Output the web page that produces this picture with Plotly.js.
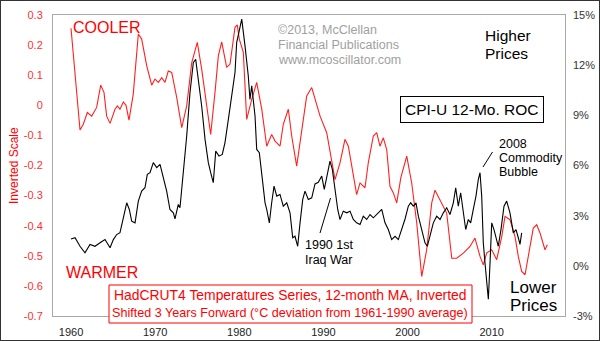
<!DOCTYPE html>
<html>
<head>
<meta charset="utf-8">
<script src="https://cdn.plot.ly/plotly-3.0.1.min.js"></script>
<style>
html,body{margin:0;padding:0;background:#fff;}
#wrap{position:relative;width:600px;height:341px;}
#chart{position:absolute;left:0;top:0;width:600px;height:341px;}
#frame{position:absolute;left:0;top:0;width:600px;height:341px;box-sizing:border-box;border:1px solid #333;pointer-events:none;}
</style>
</head>
<body>
<div id="wrap"><div id="chart"></div><div id="frame"></div></div>
<script>
// HadCRUT4 temperature (12-month MA, inverted, shifted 3 years forward) - left axis
const tempYears = [1960.0,1961.07,1961.46,1961.94,1962.46,1963.05,1963.53,1963.92,1964.24,1964.64,1965.23,1965.5,1965.82,1966.22,1966.54,1966.89,1967.4,1968.0,1968.4,1969.0,1969.59,1969.98,1970.38,1970.78,1971.17,1971.56,1971.97,1972.56,1973.16,1973.75,1974.35,1975.01,1975.53,1976.13,1976.6,1977.11,1977.51,1977.91,1978.5,1978.9,1979.49,1979.76,1980.0,1980.48,1980.88,1981.48,1982.07,1982.67,1983.26,1983.85,1984.25,1984.84,1985.23,1985.83,1986.23,1986.82,1987.42,1988.01,1988.61,1989.2,1989.6,1990.39,1990.98,1991.38,1991.97,1992.56,1992.96,1993.55,1993.95,1994.35,1994.94,1995.33,1995.93,1996.33,1996.72,1997.12,1997.52,1997.91,1998.31,1998.71,1999.2,1999.9,2000.49,2001.09,2001.68,2002.27,2002.87,2003.26,2003.86,2004.65,2005.25,2005.84,2006.63,2007.42,2008.01,2008.61,2009.0,2009.41,2010.0,2010.59,2011.19,2011.58,2012.17,2012.77,2013.16,2013.56,2013.96,2014.35,2014.94,2015.35,2015.74,2016.33,2016.61];
const tempValues = [0.256,-0.082,-0.063,-0.024,-0.036,-0.007,0.067,0.043,-0.036,-0.06,-0.013,-0.002,-0.013,0.011,0.0,-0.049,0.037,0.237,0.22,0.131,0.067,0.087,0.076,0.092,0.076,0.114,0.109,0.026,-0.074,-0.002,0.142,0.209,0.12,-0.002,-0.097,0.042,0.164,0.211,0.126,0.137,0.259,0.267,0.22,0.176,-0.047,0.02,0.076,-0.013,-0.136,-0.097,-0.119,-0.136,-0.063,-0.013,-0.102,-0.202,-0.08,0.031,0.059,-0.002,-0.036,-0.091,-0.191,-0.247,-0.191,-0.113,-0.136,-0.224,-0.297,-0.258,-0.274,-0.191,-0.102,-0.091,-0.136,-0.108,-0.147,-0.269,-0.291,-0.324,-0.24,-0.169,-0.258,-0.391,-0.569,-0.48,-0.324,-0.282,-0.313,-0.358,-0.508,-0.508,-0.491,-0.469,-0.441,-0.502,-0.53,-0.49,-0.48,-0.513,-0.436,-0.369,-0.38,-0.436,-0.502,-0.552,-0.563,-0.502,-0.408,-0.397,-0.424,-0.48,-0.463];

// CPI-U 12-month rate of change (%) - right axis
const cpiYears = [1960.0,1960.48,1961.07,1961.66,1962.26,1962.85,1963.45,1964.04,1964.64,1965.03,1965.43,1965.82,1966.22,1966.62,1966.93,1967.21,1967.61,1968.0,1968.4,1968.79,1969.07,1969.39,1969.78,1970.19,1970.58,1970.97,1971.37,1971.76,1972.16,1972.36,1972.75,1972.95,1973.35,1973.75,1974.14,1974.54,1974.82,1975.13,1975.53,1975.93,1976.32,1976.6,1976.91,1977.2,1977.59,1977.98,1978.3,1978.7,1979.1,1979.49,1979.69,1980.29,1980.68,1981.07,1981.27,1981.48,1981.87,1982.07,1982.38,1982.66,1983.06,1983.26,1983.57,1983.85,1984.13,1984.45,1984.84,1985.23,1985.64,1986.03,1986.35,1986.62,1986.94,1987.22,1987.54,1987.81,1988.2,1988.61,1989.0,1989.39,1989.8,1990.1,1990.39,1990.78,1991.06,1991.38,1991.7,1991.97,1992.36,1992.77,1993.16,1993.55,1993.95,1994.35,1994.74,1995.14,1995.54,1995.93,1996.33,1996.93,1997.32,1997.71,1998.11,1998.51,1998.9,1999.3,1999.7,2000.09,2000.37,2000.68,2001.0,2001.28,2001.68,2002.07,2002.35,2002.67,2003.06,2003.46,2003.86,2004.25,2004.65,2005.04,2005.44,2005.72,2006.03,2006.31,2006.62,2006.91,2007.22,2007.5,2007.81,2008.13,2008.41,2008.61,2008.81,2009.0,2009.2,2009.48,2009.6,2009.8,2010.0,2010.27,2010.59,2010.78,2011.1,2011.46,2011.78,2012.17,2012.57,2012.89,2013.16,2013.36,2013.56];
const cpiValues = [1.6,1.68,1.17,0.78,1.28,1.17,1.38,1.57,1.08,1.57,1.87,1.98,2.87,3.77,3.37,2.67,2.57,3.87,4.47,4.67,5.47,5.57,6.17,5.87,6.07,5.27,4.47,3.37,3.17,2.81,3.67,3.47,5.57,7.76,10.36,12.16,12.35,11.16,9.56,7.56,6.17,5.57,4.97,6.86,6.56,6.66,7.37,8.76,10.16,11.56,13.35,14.75,13.15,11.35,9.95,10.76,8.96,6.96,6.77,5.37,3.77,3.37,2.57,3.77,4.77,4.17,4.27,3.57,3.77,3.17,1.68,1.77,1.17,2.57,3.97,4.47,3.97,4.07,4.9,5.0,5.37,4.57,5.27,6.26,5.77,4.57,3.37,2.77,3.27,3.17,3.27,2.77,2.57,2.47,2.97,2.77,3.07,2.87,3.07,3.37,2.57,2.17,1.57,1.77,1.57,2.17,2.8,3.57,3.77,3.57,3.77,2.97,2.17,1.38,1.17,1.77,2.57,2.97,2.77,3.17,3.47,3.07,3.77,4.67,3.57,4.37,3.37,2.17,2.77,2.57,3.37,4.17,5.17,5.57,4.17,1.38,0.18,-1.22,-2.0,0.18,2.57,2.17,1.57,1.17,2.17,3.57,3.87,3.17,1.97,2.17,1.68,1.28,1.97];

// tick labels
const xTickVals = [1960,1970,1980,1990,2000,2010];
const xTickText = ['1960','1970','1980','1990','2000','2010'];
const leftTickVals = [0.3,0.2,0.1,0,-0.1,-0.2,-0.3,-0.4,-0.5,-0.6,-0.7];
const leftTickText = ['0.3','0.2','0.1','0','-0.1','-0.2','-0.3','-0.4','-0.5','-0.6','-0.7'];
const rightTickVals = [15,12,9,6,3,0,-3];
const rightTickText = ['15%','12%','9%','6%','3%','0%','-3%'];

const FONT = 'Liberation Sans, Arial, sans-serif';
const L = 53, R = 565, T = 15, B = 316;
const px = x => (x - L) / (R - L);
const py = y => (B - y) / (B - T);

function txt(text, x, y, size, color, extra) {
  return Object.assign({
    text: text, xref: 'paper', yref: 'paper', x: px(x), y: py(y),
    xanchor: 'left', yanchor: 'middle', showarrow: false,
    font: {family: FONT, size: size, color: color}
  }, extra || {});
}

const annotations = [
  txt('COOLER', 71, 27, 16, '#ff0000'),
  txt('WARMER', 64, 272, 16, '#ff0000'),
  txt('©2013, McClellan', 276, 30, 12.5, '#a0a0a0'),
  txt('Financial Publications', 276, 45, 12.5, '#a0a0a0'),
  txt('www.mcoscillator.com', 276, 60, 12.5, '#a0a0a0'),
  txt('Higher', 483, 35, 15.5, '#000'),
  txt('Prices', 483, 54, 15.5, '#000'),
  txt('CPI-U 12-Mo. ROC', 472, 110, 15.5, '#000', {xanchor: 'center', bordercolor: '#000', borderwidth: 1, borderpad: 4, bgcolor: '#fff'}),
  txt('2008', 497, 144, 12.5, '#000'),
  txt('Commodity', 497, 158, 12.5, '#000'),
  txt('Bubble', 497, 172, 12.5, '#000'),
  txt('1990 1st', 303, 245, 12.5, '#000'),
  txt('Iraq War', 303, 260, 12.5, '#000'),
  txt('Lower', 508, 287, 17, '#000'),
  txt('Prices', 508, 305, 17, '#000'),
  txt('HadCRUT4 Temperatures Series, 12-month MA, Inverted', 290, 295, 13.9, '#ff0000', {xanchor: 'center'}),
  txt('Shifted 3 Years Forward (°C deviation from 1961-1990 average)', 290, 313, 12.6, '#ff0000', {xanchor: 'center'}),
  txt('Inverted Scale', 14, 166, 12, '#ff0000', {xanchor: 'center', textangle: -90})
];

const shapes = [
  {type: 'rect', xref: 'paper', yref: 'paper', x0: px(109), x1: px(472), y0: py(323), y1: py(285),
   line: {color: '#ff0000', width: 1}, fillcolor: '#ffffff', layer: 'above'},
  {type: 'line', xref: 'paper', yref: 'paper', x0: px(483), y0: py(167), x1: px(492.5), y1: py(152),
   line: {color: '#000', width: 1}},
  {type: 'line', xref: 'paper', yref: 'paper', x0: px(320), y0: py(233), x1: px(330.5), y1: py(198),
   line: {color: '#000', width: 1}}
];

const traces = [
  {x: tempYears, y: tempValues, type: 'scatter', mode: 'lines', yaxis: 'y',
   line: {color: '#ff2020', width: 1.1}, hoverinfo: 'skip'},
  {x: cpiYears, y: cpiValues, type: 'scatter', mode: 'lines', yaxis: 'y2',
   line: {color: '#000000', width: 1.1}, hoverinfo: 'skip'}
];

const layout = {
  width: 600, height: 341,
  margin: {l: L, r: 600 - R, t: T, b: 341 - B, pad: 0},
  paper_bgcolor: '#fff', plot_bgcolor: '#fff',
  showlegend: false,
  font: {family: FONT},
  xaxis: {range: [1957.86, 2018.71], tickmode: 'array', tickvals: xTickVals, ticktext: xTickText,
          showgrid: false, zeroline: false, ticks: '', showline: true, mirror: true, linecolor: '#a8a8a8', linewidth: 1,
          tickfont: {family: FONT, size: 11, color: '#222'}, ticklabelstandoff: 6},
  yaxis: {range: [-0.7, 0.3], tickmode: 'array', tickvals: leftTickVals, ticktext: leftTickText,
          showgrid: false, zeroline: false, ticks: '', showline: true, mirror: true, linecolor: '#a8a8a8', linewidth: 1,
          tickfont: {family: FONT, size: 11, color: '#ff3030'}, ticklabelstandoff: 7},
  yaxis2: {range: [-3, 15], overlaying: 'y', side: 'right', tickmode: 'array', tickvals: rightTickVals, ticktext: rightTickText,
          showgrid: false, zeroline: false, ticks: '', showline: false,
          tickfont: {family: FONT, size: 11, color: '#333'}, ticklabelstandoff: 7},
  annotations: annotations,
  shapes: shapes
};

Plotly.newPlot('chart', traces, layout, {staticPlot: true, displayModeBar: false});
</script>
</body>
</html>
